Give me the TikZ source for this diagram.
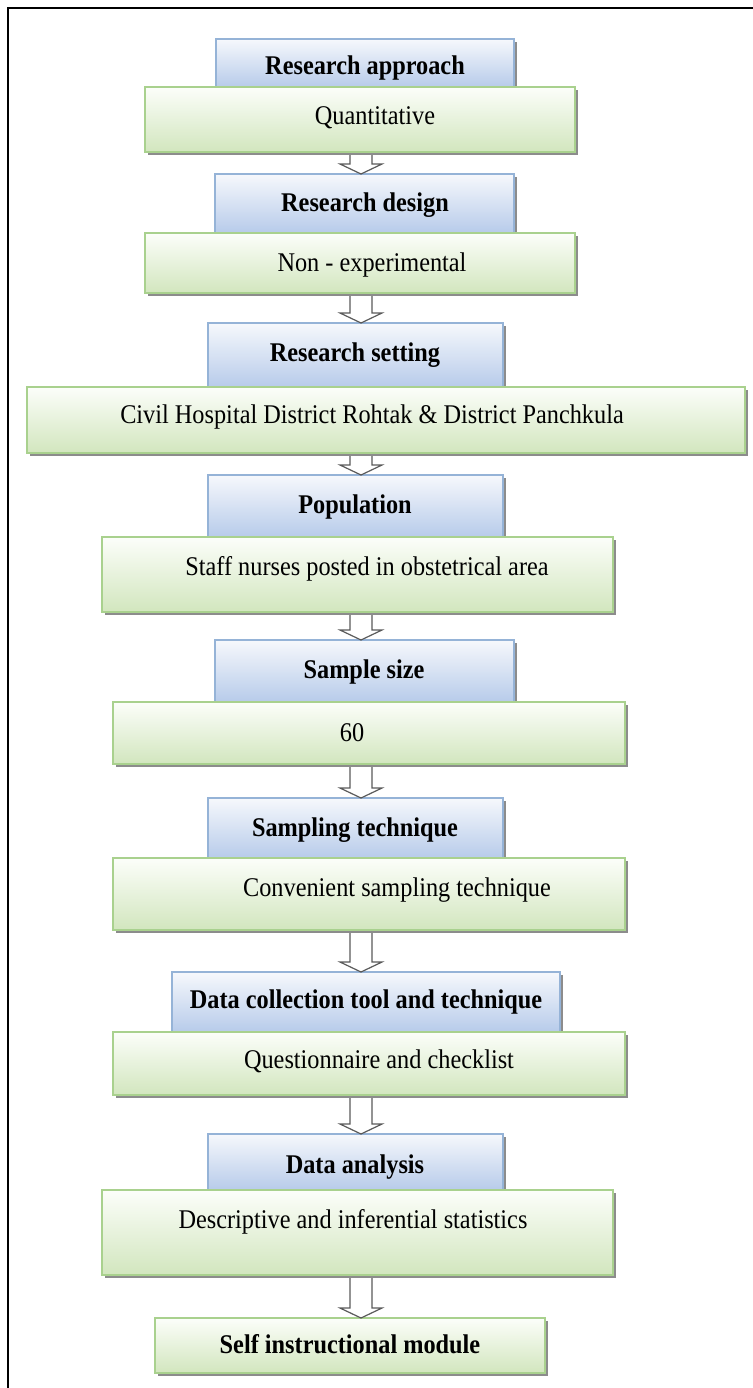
\documentclass[tikz,border=0pt]{standalone}
\usepackage{fontspec}
\setmainfont{Liberation Serif}[FakeStretch=0.9]
\usetikzlibrary{shadows,calc}
\definecolor{bluedraw}{HTML}{95B3D7}
\definecolor{bluetop}{HTML}{F6F8FC}
\definecolor{bluebot}{HTML}{B7CBEA}
\definecolor{greendraw}{HTML}{A9D18E}
\definecolor{greentop}{HTML}{FCFEFA}
\definecolor{greenbot}{HTML}{D2E6BE}
\definecolor{arrowdraw}{HTML}{5A5A5A}
\newcommand\mybox[6]{\node[#2, anchor=north west, minimum width={(#5-#3)*0.5pt}, minimum height={(#6-#4)*0.5pt}] (#1) at (#3,#4) {};}
\newcommand\flow[2]{%
  \path (#1.south -| ax) coordinate (fs) (#2.north -| ax) coordinate (ft);
  \draw[hollow] ($(fs)+(-11,3)$) -- ($(ft)+(-11,-10)$) -- ($(ft)+(-21,-10)$) -- (ft) -- ($(ft)+(21,-10)$) -- ($(ft)+(11,-10)$) -- ($(fs)+(11,3)$);}
\begin{document}
\begin{tikzpicture}[x=0.5pt,y=-0.5pt,
  basebox/.style={rectangle, inner sep=0pt, outer sep=0pt, line width=0.8pt, shading=axis,
    drop shadow={shadow xshift=1.5pt, shadow yshift=-1.5pt, fill=black!45, opacity=1}},
  bluebox/.style={basebox, draw=bluedraw, top color=bluetop, bottom color=bluebot},
  greenbox/.style={basebox, draw=greendraw, top color=greentop, bottom color=greenbot},
  txt/.style={inner sep=0pt, yshift=-2pt, text height=0.68em, text depth=0.2em, font=\fontsize{13.5}{16}\selectfont},
  btxt/.style={txt, font=\fontsize{13.5}{16}\selectfont\bfseries},
  hollow/.style={draw=arrowdraw, fill=white, line width=0.6pt, line join=miter}]
\useasboundingbox (0,0) rectangle (753,1388);
\draw[line width=1pt] (753,8) -- (8,8) -- (8,1388);
\coordinate (ax) at (361,0);

\mybox{b1}{bluebox}{216}{39}{514}{87}
\mybox{g1}{greenbox}{145}{87}{575}{152}
\mybox{b2}{bluebox}{215}{174}{514}{233}
\mybox{g2}{greenbox}{145}{233}{575}{293}
\mybox{b3}{bluebox}{208}{323}{503}{387}
\mybox{g3}{greenbox}{27}{387}{745}{453}
\mybox{b4}{bluebox}{208}{475}{503}{537}
\mybox{g4}{greenbox}{102}{537}{613}{612}
\mybox{b5}{bluebox}{215}{640}{514}{702}
\mybox{g5}{greenbox}{113}{702}{625}{764}
\mybox{b6}{bluebox}{208}{798}{503}{858}
\mybox{g6}{greenbox}{113}{858}{625}{930}
\mybox{b7}{bluebox}{172}{972}{560}{1032}
\mybox{g7}{greenbox}{113}{1032}{625}{1095}
\mybox{b8}{bluebox}{208}{1134}{503}{1190}
\mybox{g8}{greenbox}{102}{1190}{613}{1275}
\mybox{g9}{greenbox}{155}{1318}{545}{1373}

\node[btxt] (tb1) at (365,66) {Research approach};
\node[txt]  (tg1) at (375,116) {Quantitative};
\node[btxt] (tb2) at (365,203) {Research design};
\node[txt]  (tg2) at (372,263) {Non - experimental};
\node[btxt] (tb3) at (355,353) {Research setting};
\node[txt]  (tg3) at (372,415) {Civil Hospital District Rohtak \& District Panchkula};
\node[btxt] (tb4) at (355,505) {Population};
\node[txt]  (tg4) at (367,567) {Staff nurses posted in obstetrical area};
\node[btxt] (tb5) at (364,670) {Sample size};
\node[txt]  (tg5) at (352,733) {60};
\node[btxt] (tb6) at (355,828) {Sampling technique};
\node[txt]  (tg6) at (397,888) {Convenient sampling technique};
\node[btxt] (tb7) at (366,1000) {Data collection tool and technique};
\node[txt]  (tg7) at (379,1060) {Questionnaire and checklist};
\node[btxt] (tb8) at (355,1165) {Data analysis};
\node[txt]  (tg8) at (353,1220) {Descriptive and inferential statistics};
\node[btxt] (tg9) at (350,1345) {Self instructional module};

\flow{g1}{b2}
\flow{g2}{b3}
\flow{g3}{b4}
\flow{g4}{b5}
\flow{g5}{b6}
\flow{g6}{b7}
\flow{g7}{b8}
\flow{g8}{g9}
\end{tikzpicture}
\end{document}
